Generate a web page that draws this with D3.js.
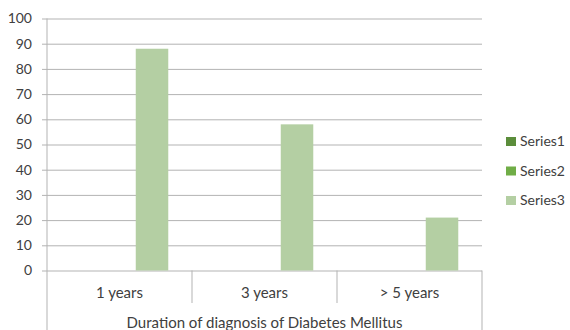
<!DOCTYPE html>
<html>
<head>
<meta charset="utf-8">
<script src="https://cdn.jsdelivr.net/npm/d3@7"></script>
<style>
  html, body { margin: 0; padding: 0; background: #fff; }
  svg { display: block; font-family: Lato, "Open Sans", sans-serif; }
</style>
</head>
<body>
<svg id="chart" width="570" height="330"></svg>
<script>
// Chart data
const categories = ["1 years", "3 years", "> 5 years"];
const seriesNames = ["Series1", "Series2", "Series3"];
const series1 = [0, 0, 0];
const series2 = [0, 0, 0];
const series3 = [88, 58, 21];
const yTicks = [0, 10, 20, 30, 40, 50, 60, 70, 80, 90, 100];
const axisTitle = "Duration of diagnosis of Diabetes Mellitus";

const seriesValues = [series1, series2, series3];
const colors = ["#5b8d3b", "#70ad47", "#b4cfa3"];
const textColor = "#404040";
const gridColor = "#b3b3b3";

const svg = d3.select("#chart");
const W = 570, H = 330;
const plot = { left: 47, right: 482, top: 18.5, bottom: 270.5 };

const x0 = d3.scaleBand().domain(categories).range([plot.left, plot.right]).padding(0);
const x1 = d3.scaleBand().domain(seriesNames).range([0, x0.bandwidth()])
  .paddingInner(0).paddingOuter(0.73);
const y = d3.scaleLinear().domain([0, 100]).range([plot.bottom, plot.top]);

// Gridlines + value labels (ticks stretch across the plot and poke out left)
const yAxis = d3.axisLeft(y).tickValues(yTicks)
  .tickSize(plot.right - plot.left + 5).tickPadding(10).tickFormat(d3.format("d"));
const gy = svg.append("g").attr("transform", `translate(${plot.right},0)`).call(yAxis);
gy.select(".domain").remove();
gy.selectAll(".tick line").attr("stroke", gridColor).attr("stroke-width", 1);
gy.selectAll(".tick text").attr("fill", textColor).style("font-size", "14px")
  .style("font-family", "Lato, 'Open Sans', sans-serif");

// Bars
const groups = svg.append("g").selectAll("g").data(categories).join("g")
  .attr("transform", d => `translate(${x0(d)},0)`);
groups.selectAll("rect")
  .data((c, i) => seriesNames.map((s, k) => ({ s, k, v: seriesValues[k][i] })))
  .join("rect")
  .attr("x", d => x1(d.s))
  .attr("width", x1.bandwidth())
  .attr("y", d => y(d.v))
  .attr("height", d => y(0) - y(d.v))
  .attr("fill", d => colors[d.k]);

// Category axis frame: vertical axis line, outer edges and inner separators
const frame = svg.append("g").attr("stroke", gridColor).attr("stroke-width", 1).attr("fill", "none");
frame.append("line").attr("x1", plot.left).attr("x2", plot.left)
  .attr("y1", plot.top).attr("y2", H);
frame.append("line").attr("x1", plot.right).attr("x2", plot.right)
  .attr("y1", plot.bottom).attr("y2", H);
categories.slice(1).forEach(c => {
  frame.append("line").attr("x1", x0(c)).attr("x2", x0(c))
    .attr("y1", plot.bottom).attr("y2", 303);
});

// Category labels
svg.append("g").selectAll("text").data(categories).join("text")
  .attr("x", d => x0(d) + x0.bandwidth() / 2)
  .attr("y", 293)
  .attr("dy", "0.35em")
  .attr("text-anchor", "middle")
  .attr("fill", textColor)
  .style("font-size", "15px")
  .text(d => d);

// Group title under the categories
svg.append("text")
  .attr("x", (plot.left + plot.right) / 2)
  .attr("y", 323)
  .attr("dy", "0.35em")
  .attr("text-anchor", "middle")
  .attr("fill", textColor)
  .style("font-size", "15px")
  .text(axisTitle);

// Legend
const legend = svg.append("g").selectAll("g").data(seriesNames).join("g")
  .attr("transform", (d, i) => `translate(506,${141.5 + i * 29.5})`);
legend.append("rect").attr("x", 0).attr("y", -4.5).attr("width", 10).attr("height", 9)
  .attr("fill", (d, i) => colors[i]);
legend.append("text").attr("x", 14).attr("y", 0).attr("dy", "0.35em")
  .attr("fill", textColor).style("font-size", "14px").text(d => d);
</script>
</body>
</html>
